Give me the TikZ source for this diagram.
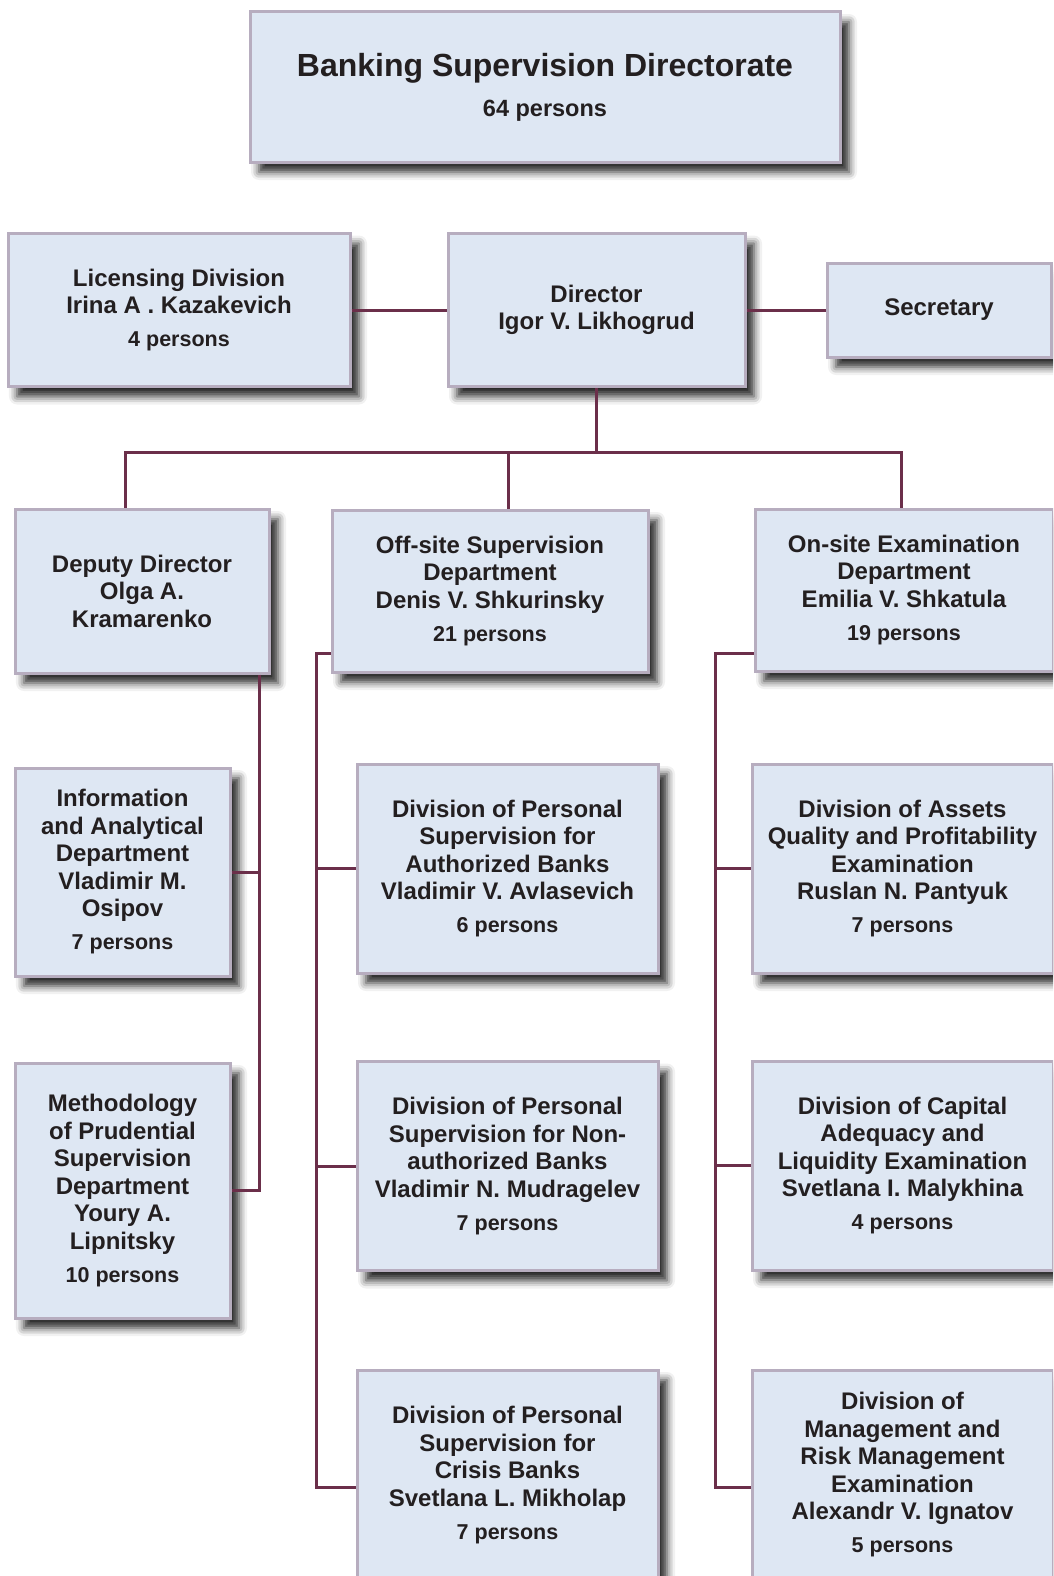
\documentclass[tikz,border=0pt]{standalone}
\usepackage{fontspec}
\setmainfont{Liberation Sans}
\usetikzlibrary{shadows.blur}
\definecolor{boxfill}{HTML}{DEE7F3}
\definecolor{boxedge}{HTML}{B7ADBF}
\definecolor{linkred}{HTML}{6B2F4A}
\definecolor{inkdark}{HTML}{231F20}

\newcommand{\staff}[1]{\\[5.5pt]{\fontsize{21.5}{27.5}\selectfont #1 persons}}

\tikzset{
    unit/.style={draw=boxedge, line width=3pt, fill=boxfill, text=inkdark, align=center, inner sep=0pt,
        font=\bfseries\fontsize{24}{27.5}\selectfont,
        blur shadow={shadow xshift=9pt, shadow yshift=-10pt, shadow blur radius=8pt, shadow opacity=85}},
    link/.style={draw=linkred, line width=3pt}
}

\begin{document}
\begin{tikzpicture}[x=1pt, y=-1pt]
    \useasboundingbox (0,0) rectangle (1053,1576);
    \clip (0,0) rectangle (1053,1576);

    % head of the directorate
    \node[unit, minimum width=590pt, minimum height=150pt, font=\bfseries\fontsize{32}{40}\selectfont] (top) at (545,87)
        {\rule{0pt}{8pt}Banking Supervision Directorate\\{\fontsize{23.5}{40}\selectfont 64 persons}};
    \node[unit, minimum width=342pt, minimum height=153pt] (lic) at (179,310)
        {Licensing Division\\Irina A . Kazakevich\staff{4}};
    \node[unit, minimum width=297pt, minimum height=153pt] (dir) at (596.5,310)
        {Director\\Igor V. Likhogrud};
    \node[unit, minimum width=224pt, minimum height=94pt] (sec) at (939,310)
        {Secretary};

    % departments
    \node[unit, minimum width=254pt, minimum height=164pt] (dep) at (142,591)
        {Deputy Director\\Olga A.\\Kramarenko};
    \node[unit, minimum width=316pt, minimum height=162pt] (off) at (490,591)
        {Off-site Supervision\\Department\\Denis V. Shkurinsky\staff{21}};
    \node[unit, minimum width=298pt, minimum height=162pt] (onsite) at (904,590)
        {On-site Examination\\Department\\Emilia V. Shkatula\staff{19}};

    % under the deputy director
    \node[unit, minimum width=215pt, minimum height=208pt] (info) at (122.5,872)
        {Information\\and Analytical\\Department\\Vladimir M.\\Osipov\staff{7}};
    \node[unit, minimum width=215pt, minimum height=255pt] (meth) at (122.5,1190.5)
        {Methodology\\of Prudential\\Supervision\\Department\\Youry A.\\Lipnitsky\staff{10}};

    % off-site divisions
    \node[unit, minimum width=301pt, minimum height=209pt] (auth) at (507.5,868.5)
        {Division of Personal\\Supervision for\\Authorized Banks\\Vladimir V. Avlasevich\staff{6}};
    \node[unit, minimum width=301pt, minimum height=209pt] (nonauth) at (507.5,1166)
        {Division of Personal\\Supervision for Non-\\authorized Banks\\Vladimir N. Mudragelev\staff{7}};
    \node[unit, minimum width=301pt, minimum height=210pt] (crisis) at (507.5,1475)
        {Division of Personal\\Supervision for\\Crisis Banks\\Svetlana L. Mikholap\staff{7}};

    % on-site divisions
    \node[unit, minimum width=301pt, minimum height=209pt] (assets) at (902.5,868.5)
        {Division of Assets\\Quality and Profitability\\Examination\\Ruslan N. Pantyuk\staff{7}};
    \node[unit, minimum width=301pt, minimum height=209pt] (capital) at (902.5,1165.5)
        {Division of Capital\\Adequacy and\\Liquidity Examination\\Svetlana I. Malykhina\staff{4}};
    \node[unit, minimum width=301pt, minimum height=210pt] (mgmt) at (902.5,1475)
        {Division of\\Management and\\Risk Management\\Examination\\Alexandr V. Ignatov\staff{5}};

    % links
    \draw[link] (lic.east) -- (dir.west);
    \draw[link] (dir.east) -- (sec.west);
    \coordinate (bus) at (dir.south |- 0,452);
    \draw[link] (dir.south) -- (bus);
    \draw[link] ([xshift=-17pt]dep.north) |- (bus) -| ([xshift=-3pt]onsite.north);
    \draw[link] ([xshift=18pt]off.north) -- ([xshift=18pt]off.north |- bus);

    % deputy trunk
    \coordinate (dtrunk) at ([xshift=-11pt]dep.south east);
    \draw[link] (dtrunk) |- (meth.east);
    \draw[link] (info.east) -- (info.east -| dtrunk);

    % off-site trunk
    \coordinate (ftrunk) at ([xshift=-14pt, yshift=20pt]off.south west);
    \draw[link] ([yshift=20pt]off.south west) -- (ftrunk) |- ([yshift=-12pt]crisis.west);
    \draw[link] (auth.west) -- (auth.west -| ftrunk);
    \draw[link] (nonauth.west) -- (nonauth.west -| ftrunk);

    % on-site trunk
    \coordinate (ntrunk) at ([xshift=-38pt, yshift=19pt]onsite.south west);
    \draw[link] ([yshift=19pt]onsite.south west) -- (ntrunk) |- ([yshift=-12pt]mgmt.west);
    \draw[link] (assets.west) -- (assets.west -| ntrunk);
    \draw[link] (capital.west) -- (capital.west -| ntrunk);
\end{tikzpicture}
\end{document}
